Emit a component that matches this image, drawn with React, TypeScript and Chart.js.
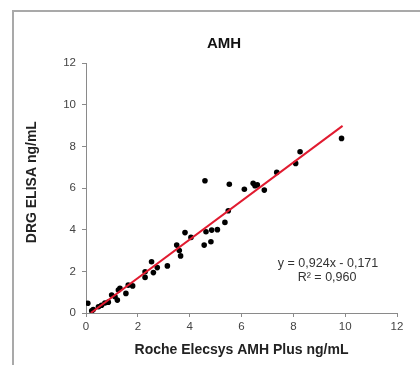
import React, { useEffect, useRef } from "react";
import { Chart, registerables } from "chart.js";

Chart.register(...registerables);

const rocheX = [
  0.07, 0.22, 0.28, 0.48, 0.6, 0.73, 0.86, 0.99, 1.12, 1.21, 1.25, 1.31, 1.54, 1.63, 1.8,
  2.28, 2.28, 2.53, 2.6, 2.75, 3.14, 3.5, 3.6, 3.65, 3.82, 4.05,
  4.59, 4.56, 4.63, 4.85, 4.82, 5.07, 5.36, 5.49, 5.53, 6.11,
  6.45, 6.52, 6.61, 6.88, 7.36, 8.09, 8.26, 9.86,
];
const drgY = [
  0.47, 0.11, 0.17, 0.3, 0.37, 0.48, 0.52, 0.86, 0.78, 0.62, 1.1, 1.18, 0.94, 1.34, 1.3,
  1.98, 1.71, 2.46, 1.94, 2.18, 2.26, 3.26, 3.0, 2.74, 3.86, 3.63,
  6.35, 3.26, 3.9, 3.98, 3.42, 4.0, 4.35, 4.91, 6.18, 5.94,
  6.23, 6.11, 6.15, 5.9, 6.75, 7.18, 7.74, 8.38,
];
const trendX = [0.185, 9.9];
const trendY = [0, 8.98];
const axisTicks = { min: 0, max: 12, step: 2 };
const titleText = "AMH";
const xTitle = "Roche Elecsys AMH Plus ng/mL";
const yTitle = "DRG ELISA ng/mL";
const equationLines = ["y = 0,924x - 0,171", "R\u00B2 = 0,960"];

const FONT = "Arial, 'Liberation Sans', sans-serif";

export default function App() {
  const ref = useRef<HTMLCanvasElement>(null);
  useEffect(() => {
    if (!ref.current) return;
    const annotation = {
      id: "equation",
      afterDatasetsDraw(chart: any) {
        const ctx = chart.ctx;
        const xs = chart.scales.x;
        const ys = chart.scales.y;
        ctx.save();
        ctx.fillStyle = "#333";
        ctx.font = `12.5px ${FONT}`;
        ctx.textAlign = "center";
        ctx.textBaseline = "middle";
        const cx = xs.getPixelForValue(9.34);
        ctx.fillText(equationLines[0], cx, ys.getPixelForValue(2.35));
        ctx.fillText(equationLines[1], cx - 1, ys.getPixelForValue(1.68));
        ctx.restore();
      },
    };
    const chart = new Chart(ref.current, {
      type: "scatter",
      data: {
        datasets: [
          {
            type: "line",
            data: trendX.map((x, i) => ({ x, y: trendY[i] })),
            borderColor: "#e11b30",
            borderWidth: 2,
            pointRadius: 0,
            fill: false,
          } as any,
          {
            data: rocheX.map((x, i) => ({ x, y: drgY[i] })),
            backgroundColor: "#000",
            borderColor: "#000",
            pointRadius: 2.8,
            borderWidth: 0,
          },
        ],
      },
      options: {
        animation: false,
        responsive: false,
        layout: { padding: { left: 51, right: 23, top: 0, bottom: 0 } },
        plugins: {
          legend: { display: false },
          tooltip: { enabled: false },
          title: {
            display: true,
            text: titleText,
            color: "#111",
            font: { family: FONT, size: 15, weight: "bold" },
            padding: { top: 35, bottom: 10 },
          },
        },
        scales: {
          x: {
            type: "linear",
            min: axisTicks.min,
            max: axisTicks.max,
            afterFit: (s: any) => {
              s.height = 52;
            },
            ticks: {
              stepSize: axisTicks.step,
              color: "#444",
              padding: 3,
              font: { family: FONT, size: 11.5 },
            },
            grid: { drawOnChartArea: false, drawTicks: true, tickLength: 4, color: "#8a8a8a" },
            border: { display: true, color: "#8a8a8a", width: 1 },
            title: {
              display: true,
              text: xTitle,
              color: "#222",
              font: { family: FONT, size: 14, weight: "bold" },
              padding: { top: 0, bottom: 6.6 },
            },
          },
          y: {
            type: "linear",
            min: axisTicks.min,
            max: axisTicks.max,
            afterFit: (s: any) => {
              s.width = 35;
            },
            ticks: {
              stepSize: axisTicks.step,
              color: "#444",
              padding: 6,
              font: { family: FONT, size: 11.5 },
            },
            grid: { drawOnChartArea: false, drawTicks: true, tickLength: 4, color: "#8a8a8a" },
            border: { display: true, color: "#8a8a8a", width: 1 },
            title: {
              display: true,
              text: "   " + yTitle,
              color: "#222",
              font: { family: FONT, size: 14, weight: "bold" },
              padding: { top: -26.9, bottom: 0 },
            },
          },
        },
      },
      plugins: [annotation],
    });
    return () => chart.destroy();
  }, []);
  return (
    <div style={{ position: "fixed", left: 0, top: 0, width: 420, height: 365, background: "#fff" }}>
      <div
        style={{
          position: "absolute",
          left: 12,
          top: 10,
          width: 420,
          height: 370,
          borderLeft: "2px solid #a9a9a9",
          borderTop: "2px solid #a9a9a9",
        }}
      />
      <canvas ref={ref} width={420} height={365} style={{ position: "absolute", left: 0, top: 0 }} />
    </div>
  );
}
